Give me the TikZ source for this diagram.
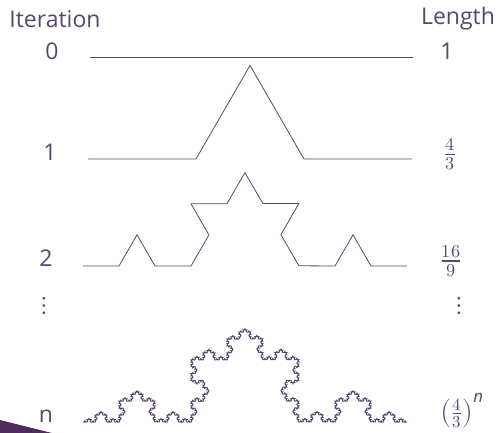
\documentclass[tikz,border=0pt]{standalone}
\usepackage{amsmath}
\usepackage{unicode-math}
\setmainfont{Open Sans}
\setmathfont{Latin Modern Math}
\usetikzlibrary{decorations.fractals}
\definecolor{kochpurple}{RGB}{88,70,112}
\definecolor{slidepurple}{RGB}{80,44,90}

\begin{document}
\begin{tikzpicture}[x=1pt,y=-1pt,
  lbl/.style={text=kochpurple,font=\fontsize{23}{27}\selectfont,inner sep=0pt},
  mlbl/.style={lbl,font=\fontsize{26}{30}\selectfont},
  koch/.style={draw=kochpurple,line width=0.8pt,decoration={Koch snowflake}}]
  \useasboundingbox (0,0) rectangle (498,433);
  \fill[slidepurple] (0,420) -- (52,433) -- (0,433) -- cycle;
  % column heads
  \node[lbl] (iter) at (55,19)  {Iteration};
  \node[lbl] (len)  at (458,19) {Length};
  % iteration numbers and lengths
  \node[lbl] (i0) at (52,51)   {0};
  \node[lbl] (l0) at (447,51)  {1};
  \node[lbl] (i1) at (50,152)  {1};
  \node[mlbl] (l1) at (450,154) {$\frac{4}{3}$};
  \node[lbl] (i2) at (46,258)  {2};
  \node[mlbl] (l2) at (451,261) {$\frac{16}{9}$};
  \node[mlbl] (idots) at (44,306)  {$\vdots$};
  \node[mlbl] (ldots) at (459,306) {$\vdots$};
  \node[lbl] (in) at (46,416)  {n};
  \node[mlbl,font=\fontsize{24}{28}\selectfont] (ln) at (462,411) {$\left(\frac{4}{3}\right)^{\text{\itshape n}}$};
  % curve end points
  \coordinate (s0) at (90,57);  \coordinate (e0) at (413,57);
  \coordinate (s1) at (88,159); \coordinate (e1) at (412,159);
  \coordinate (s2) at (83,266); \coordinate (e2) at (407,266);
  \coordinate (sn) at (83,422); \coordinate (en) at (407,422);
  % the curves
  \draw[koch] (s0) -- (e0);
  \draw[koch] decorate{(s1) -- (e1)};
  \draw[koch] decorate{decorate{(s2) -- (e2)}};
  \draw[koch,line width=1pt] decorate{decorate{decorate{decorate{decorate{(sn) -- (en)}}}}};
\end{tikzpicture}
\end{document}
